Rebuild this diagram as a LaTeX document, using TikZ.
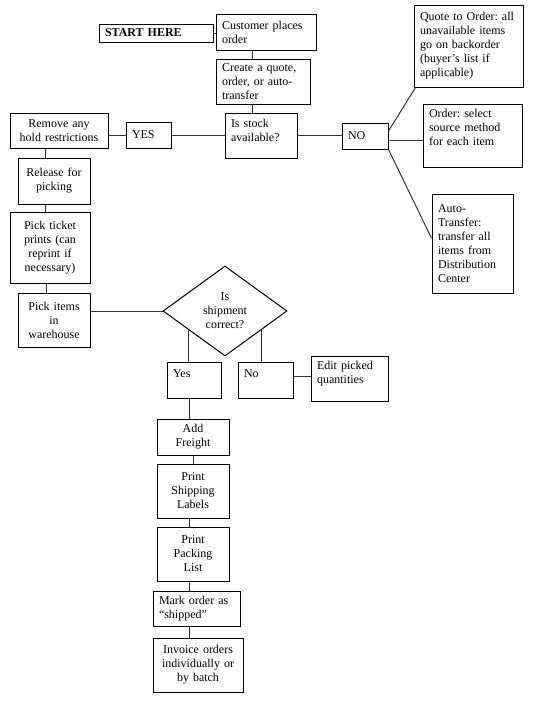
\documentclass[tikz,border=0pt]{standalone}
\usepackage{fontspec}
\setmainfont{Liberation Serif}
\usetikzlibrary{shapes.geometric}
\frenchspacing

\begin{document}
\begin{tikzpicture}[x=0.75pt,y=-0.75pt,
        box/.style={draw, line width=0.75pt, inner xsep=4.5pt, inner ysep=0pt, font=\fontsize{9}{10.5}\selectfont},
        sz/.style 2 args={minimum width=#1*0.75pt, text width=#1*0.75pt-9pt, minimum height=#2*0.75pt},
        lt/.style={align=left},
        ct/.style={align=center},
        link/.style={draw, line width=0.75pt, black!80}]
        \useasboundingbox (0,0) rectangle (532,703);

        % start of the order
        \node[box, sz={114}{18}, lt] (start) at (156,33) {\textbf{START HERE}};
        \node[box, sz={100}{36}, lt] (cust) at (266,32) {Customer places\\order};
        \node[box, sz={94}{45}, lt] (create) at (263,81.5) {Create a quote,\\order, or auto-\\transfer};
        \node[box, sz={72}{45}, lt, text depth=18pt] (stock) at (261,135.5) {Is stock\\available?};

        % stock available
        \node[box, sz={45}{26}, lt] (yesstock) at (148.5,135) {YES};
        \node[box, sz={98}{35}, ct] (remove) at (59,130.5) {Remove any\\hold restrictions};
        \node[box, sz={72}{46}, ct] (release) at (54,181) {Release for\\picking};
        \node[box, sz={80}{71}, ct] (ticket) at (50,247.5) {Pick ticket\\prints (can\\reprint if\\necessary)};
        \node[box, sz={72}{54}, ct] (pick) at (54,320) {Pick items\\in\\warehouse};

        % stock not available
        \node[box, sz={46}{26}, lt] (nostock) at (365,136) {NO};
        \node[box, sz={109}{82}, lt] (quote) at (468.5,46) {Quote to Order: all\\unavailable items\\go on backorder\\(buyer’s list if\\applicable)};
        \node[box, sz={99}{63}, lt, text depth=33pt] (select) at (472.5,135.5) {Order: select\\source method\\for each item};
        \node[box, sz={81}{99}, lt] (auto) at (472.5,243.5) {Auto-\\Transfer:\\transfer all\\items from\\Distribution\\Center};

        % checking the shipment
        \node[draw, diamond, line width=0.75pt, inner sep=0pt, minimum width=124*0.75pt, minimum height=90*0.75pt,
            align=center, font=\fontsize{9}{10.5}\selectfont] (check) at (225,311) {Is\\shipment\\correct?};
        \node[box, sz={54}{36}, lt, text depth=10pt] (yes) at (194,380) {Yes};
        \node[box, sz={55}{36}, lt, text depth=10pt] (no) at (265.5,380) {No};
        \node[box, sz={77}{45}, lt, text depth=20pt] (edit) at (349.5,378.5) {Edit picked\\quantities};

        % shipping
        \node[box, sz={72}{36}, ct] (freight) at (193,437) {Add\\Freight};
        \node[box, sz={72}{54}, ct] (labels) at (193,491) {Print\\Shipping\\Labels};
        \node[box, sz={72}{54}, ct] (packing) at (193,554) {Print\\Packing\\List};
        \node[box, sz={87}{35}, lt] (mark) at (196.5,608.5) {Mark order as\\“shipped”};
        \node[box, sz={90}{54}, ct] (invoice) at (198,665) {Invoice orders\\individually or\\by batch};

        % connectors
        \path[link] (start.east) -- (start.east -| cust.west);
        \path[link] ([xshift=-10.5pt]cust.south) -- ([xshift=-8.25pt]create.north);
        \path[link] ([xshift=-8.25pt]create.south) -- ([xshift=-6.75pt]stock.north);
        \path[link] (yesstock.east) -- (yesstock.east -| stock.west);
        \path[link] (yesstock.west) -- (yesstock.west -| remove.east);
        \path[link] ([xshift=-6.75pt]release.north) -- ([xshift=-6.75pt]release.north |- remove.south);
        \path[link] ([xshift=-3.75pt]ticket.north) -- ([xshift=-3.75pt]ticket.north |- release.south);
        \path[link] ([xshift=-3pt]ticket.south) -- ([xshift=-3pt]ticket.south |- pick.north);
        \path[link] (check.west) -- (check.west -| pick.east);

        \path[link] (stock.east) -- (stock.east -| nostock.west);
        \path[link] ([yshift=3.75pt]nostock.east) -- ([xshift=1.5pt]quote.south west);
        \path[link] ([yshift=-3pt]nostock.east) -- ([yshift=-3pt]nostock.east -| select.west);
        \path[link] (nostock.south east) -- ([yshift=4pt]auto.west);

        \path[link] (check.208) -- (check.208 |- yes.north);
        \path[link] (check.332) -- (check.332 |- no.north);
        \path[link] ([yshift=3pt]no.east) -- ([yshift=3pt]no.east -| edit.west);

        \path[link] ([xshift=-3.75pt]yes.south) -- ([xshift=-3.75pt]yes.south |- freight.north);
        \path[link] (freight.south) -- (labels.north);
        \path[link] ([xshift=-3pt]labels.south) -- ([xshift=-3pt]labels.south |- packing.north);
        \path[link] ([xshift=-3pt]packing.south) -- ([xshift=-3pt]packing.south |- mark.north);
        \path[link] ([xshift=-4.9pt]mark.south) -- ([xshift=-4.9pt]mark.south |- invoice.north);
    \end{tikzpicture}
\end{document}
